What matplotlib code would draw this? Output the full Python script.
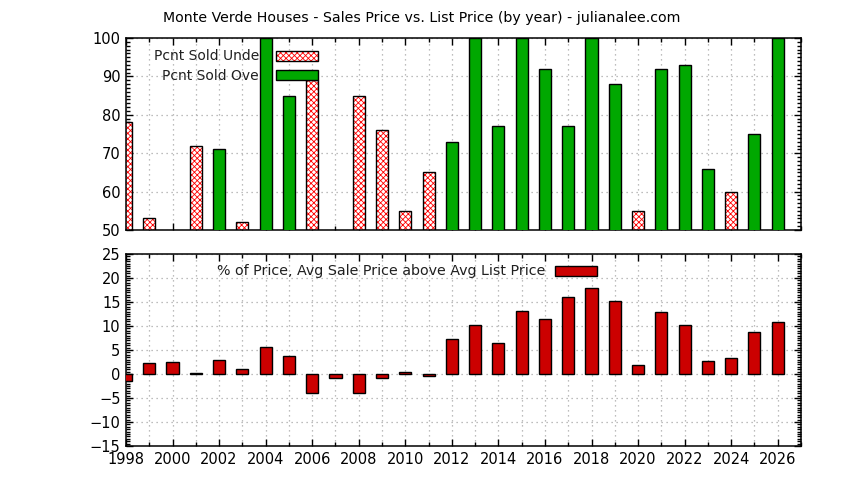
import numpy as np
import matplotlib
matplotlib.use('Agg')
import matplotlib.pyplot as plt
from matplotlib.patches import Rectangle
from matplotlib.ticker import MultipleLocator

nan = np.nan

# ---------------- data ----------------
years = list(range(1998, 2027))

pcnt_under = [78, 53, nan, 72, nan, 52, nan, nan, 89, nan,
              85, 76, 55, 65, nan, nan, nan, nan, nan, nan,
              nan, nan, 55, nan, nan, nan, 60, nan, nan]

pcnt_over = [nan, nan, nan, nan, 71, nan, 100, 85, nan, nan,
             nan, nan, nan, nan, 73, 100, 77, 100, 92, 77,
             100, 88, nan, 92, 93, 66, nan, 75, 100]

avg_above = [-1.5, 2.3, 2.5, 0.25, 2.9, 1.0, 5.6, 3.8, -4.0, -0.9,
             -4.0, -0.9, 0.4, -0.5, 7.3, 10.3, 6.5, 13.2, 11.5, 16.1,
             18.0, 15.3, 1.9, 13.0, 10.3, 2.7, 3.4, 8.8, 10.9]

lbl_under = 'Pcnt Sold Unde'
lbl_over = 'Pcnt Sold Ove'
lbl_avg = '% of Price, Avg Sale Price above Avg List Price'
titulo = 'Monte Verde Houses - Sales Price vs. List Price (by year) - julianalee.com'

GREEN = '#00a800'
RED = '#cc0000'
HATCH_RED = '#ff0000'
HATCH = 'xxxxxx'
W, H = 844, 480

plt.rcParams['font.family'] = 'DejaVu Sans'
plt.rcParams['font.size'] = 10
plt.rcParams['hatch.linewidth'] = 0.6

fig = plt.figure(figsize=(W / 100, H / 100), dpi=100)

# pixel -> figure fraction
def fx(px):
    return px / W

def fy(py):
    return 1 - py / H

ax1 = fig.add_axes([fx(126), fy(230), fx(801) - fx(126), fy(38) - fy(230)])
ax2 = fig.add_axes([fx(126), fy(446), fx(801) - fx(126), fy(254) - fy(446)])

bw = 0.52

# top panel: hatched red (under) + solid green (over)
ax1.bar(years, pcnt_under, width=bw, color='white', edgecolor=HATCH_RED,
        hatch=HATCH, linewidth=0, zorder=2)
ax1.bar(years, pcnt_under, width=bw, fill=False, edgecolor='black',
        linewidth=1.0, zorder=3)
ax1.bar(years, pcnt_over, width=bw, color=GREEN, edgecolor='black',
        linewidth=1.0, zorder=3)
ax1.set_ylim(50, 100)
ax1.yaxis.set_major_locator(MultipleLocator(10))
ax1.yaxis.set_minor_locator(MultipleLocator(1))

# bottom panel
ax2.bar(years, avg_above, width=bw, color=RED, edgecolor='black',
        linewidth=1.0, zorder=3)
ax2.set_ylim(-15, 25)
ax2.yaxis.set_major_locator(MultipleLocator(5))
ax2.yaxis.set_minor_locator(MultipleLocator(0.5))

for ax in (ax1, ax2):
    ax.set_xlim(1998, 2027)
    ax.xaxis.set_major_locator(MultipleLocator(2))
    ax.xaxis.set_minor_locator(MultipleLocator(1))
    ax.tick_params(which='both', direction='in', top=True, right=True,
                   width=1.0, colors='black', labelsize=10.5)
    ax.tick_params(which='major', length=5, pad=4)
    ax.tick_params(which='minor', length=3)
    ax.grid(True, which='major', color='#a8a8a8', linestyle=(0, (1, 3)),
            linewidth=0.9, zorder=0)
    ax.grid(True, which='minor', axis='x', color='#a8a8a8',
            linestyle=(0, (1, 3)), linewidth=0.9, zorder=0)
    for s in ax.spines.values():
        s.set_linewidth(1.1)
    ax.set_axisbelow(True)

ax1.tick_params(axis='x', which='both', labelbottom=False)

# legends drawn by hand, gnuplot style
fig.text(fx(259), fy(56), lbl_under, ha='right', va='center',
         fontsize=10, color='#202020')
fig.text(fx(259), fy(75.5), lbl_over, ha='right', va='center',
         fontsize=10, color='#202020')
fig.add_artist(Rectangle((fx(276), fy(61)), fx(318) - fx(276), fy(51) - fy(61),
                         transform=fig.transFigure, facecolor='white',
                         edgecolor=HATCH_RED, hatch=HATCH, linewidth=0, zorder=5))
fig.add_artist(Rectangle((fx(276), fy(61)), fx(318) - fx(276), fy(51) - fy(61),
                         transform=fig.transFigure, fill=False,
                         edgecolor='black', linewidth=1.0, zorder=6))
fig.add_artist(Rectangle((fx(276), fy(80)), fx(318) - fx(276), fy(70) - fy(80),
                         transform=fig.transFigure, facecolor=GREEN,
                         edgecolor='black', linewidth=1.0, zorder=6))

fig.text(fx(545), fy(271), lbl_avg, ha='right', va='center',
         fontsize=10.3, color='#202020')
fig.add_artist(Rectangle((fx(555), fy(276)), fx(597) - fx(555), fy(266) - fy(276),
                         transform=fig.transFigure, facecolor=RED,
                         edgecolor='black', linewidth=1.0, zorder=6))

fig.text(fx(422), fy(18), titulo, ha='center', va='center',
         fontsize=10.2, color='black')

fig.savefig('out.png', dpi=100)
